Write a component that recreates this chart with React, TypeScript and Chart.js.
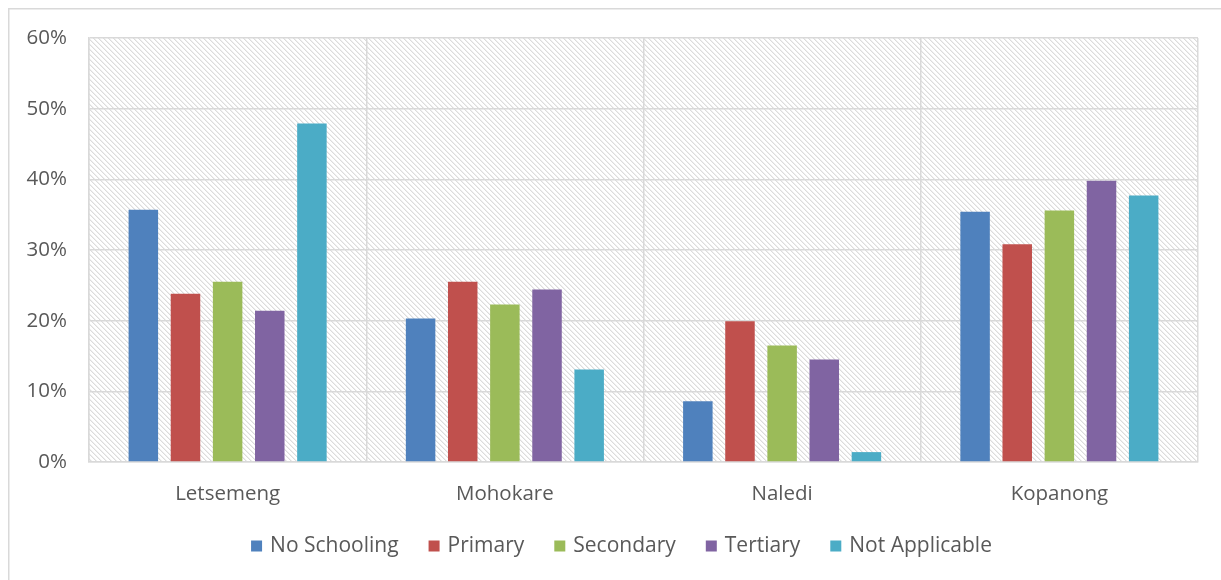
import React, { useEffect, useRef } from "react";
import { Chart, registerables } from "chart.js";

Chart.register(...registerables);

// Share of each education level per local municipality (%)
const municipalities = ["Letsemeng", "Mohokare", "Naledi", "Kopanong"];
const noSchooling = [35.7, 20.3, 8.6, 35.4];
const primary = [23.8, 25.5, 19.9, 30.8];
const secondary = [25.5, 22.3, 16.5, 35.6];
const tertiary = [21.4, 24.4, 14.5, 39.8];
const notApplicable = [47.9, 13.1, 1.4, 37.7];

const seriesNames = ["No Schooling", "Primary", "Secondary", "Tertiary", "Not Applicable"];
const seriesColors = ["#4F81BD", "#C0504D", "#9BBB59", "#8064A2", "#4BACC6"];
const yMin = 0;
const yMax = 60;
const yStep = 10;

const FONT = "'Open Sans', 'DejaVu Sans', sans-serif";
const TEXT = "#595959";
const GRID = "#d9d9d9";

// Light downward-diagonal hatch behind the plot, plus the frame's left/top edges
const backdrop = {
  id: "backdrop",
  beforeDraw(chart: Chart) {
    const { ctx, chartArea } = chart;
    const n = 5;
    const tile = document.createElement("canvas");
    tile.width = n;
    tile.height = n;
    const t = tile.getContext("2d")!;
    t.fillStyle = "#ffffff";
    t.fillRect(0, 0, n, n);
    for (let i = 0; i < n; i++) {
      t.fillStyle = "#dcdcdc";
      t.fillRect(i, i, 1, 1);
      t.fillStyle = "#efefef";
      t.fillRect((i + 1) % n, i, 1, 1);
    }
    const pattern = ctx.createPattern(tile, "repeat")!;
    ctx.save();
    ctx.fillStyle = "#ffffff";
    ctx.fillRect(0, 0, chart.width, chart.height);
    ctx.fillStyle = pattern;
    ctx.fillRect(
      chartArea.left,
      chartArea.top,
      chartArea.right - chartArea.left,
      chartArea.bottom - chartArea.top
    );
    ctx.strokeStyle = GRID;
    ctx.lineWidth = 1.5;
    ctx.beginPath();
    ctx.moveTo(0.75, chart.height);
    ctx.lineTo(0.75, 0.75);
    ctx.lineTo(chart.width, 0.75);
    ctx.stroke();
    ctx.restore();
  },
};

// Single-row legend centred on the full chart frame (which runs past the canvas's right edge)
const LEGEND_CENTER_X = 613.5;
const LEGEND_Y = 538;
const frameLegend = {
  id: "frameLegend",
  afterDraw(chart: Chart) {
    const { ctx } = chart;
    const box = 11;
    const gap = 8;
    const spacing = 30;
    ctx.save();
    ctx.font = `21px ${FONT}`;
    ctx.textBaseline = "middle";
    ctx.textAlign = "left";
    const items = chart.data.datasets.map((ds: any) => ({
      text: String(ds.label),
      color: ds.backgroundColor as string,
      w: box + gap + ctx.measureText(String(ds.label)).width,
    }));
    const total = items.reduce((s, it) => s + it.w, 0) + spacing * (items.length - 1);
    let x = LEGEND_CENTER_X - total / 2;
    for (const it of items) {
      ctx.fillStyle = it.color;
      ctx.fillRect(x, LEGEND_Y - box / 2, box, box);
      ctx.fillStyle = TEXT;
      ctx.fillText(it.text, x + box + gap, LEGEND_Y);
      x += it.w + spacing;
    }
    ctx.restore();
  },
};

export default function App() {
  const canvasRef = useRef<HTMLCanvasElement | null>(null);

  useEffect(() => {
    const canvas = canvasRef.current;
    if (!canvas) return;
    const values = [noSchooling, primary, secondary, tertiary, notApplicable];
    const chart = new Chart(canvas, {
      type: "bar",
      data: {
        labels: municipalities,
        datasets: seriesNames.map((name, i) => ({
          label: name,
          data: values[i],
          backgroundColor: seriesColors[i],
          borderWidth: 0,
          categoryPercentage: 0.76,
          barPercentage: 0.7,
        })),
      },
      options: {
        responsive: false,
        animation: false,
        layout: { padding: { top: 30, right: 23, left: 0, bottom: 73 } },
        plugins: {
          legend: { display: false },
          tooltip: { enabled: false },
        },
        scales: {
          x: {
            grid: { color: GRID, lineWidth: 1.5, drawTicks: false, offset: true },
            border: { color: GRID, width: 1.5 },
            ticks: { color: TEXT, font: { family: FONT, size: 20.5 }, padding: 20 },
            afterFit(scale: any) {
              scale.height = 45;
            },
          },
          y: {
            min: yMin,
            max: yMax,
            // invisible tick marks keep the labels clear of the plot edge
            grid: {
              color: GRID,
              lineWidth: 1.5,
              drawTicks: true,
              tickLength: 22,
              tickColor: "rgba(0,0,0,0)",
            },
            border: { color: GRID, width: 1.5 },
            ticks: {
              stepSize: yStep,
              color: TEXT,
              font: { family: FONT, size: 20.5 },
              padding: 0,
              callback: (v: any) => `${v}%`,
            },
            afterFit(scale: any) {
              scale.width = 81;
            },
          },
        },
      },
      plugins: [backdrop, frameLegend],
    });
    return () => chart.destroy();
  }, []);

  return (
    <div style={{ position: "fixed", left: 8, top: 8, width: 1213, height: 572 }}>
      <canvas ref={canvasRef} width={1213} height={572} style={{ display: "block" }} />
    </div>
  );
}
